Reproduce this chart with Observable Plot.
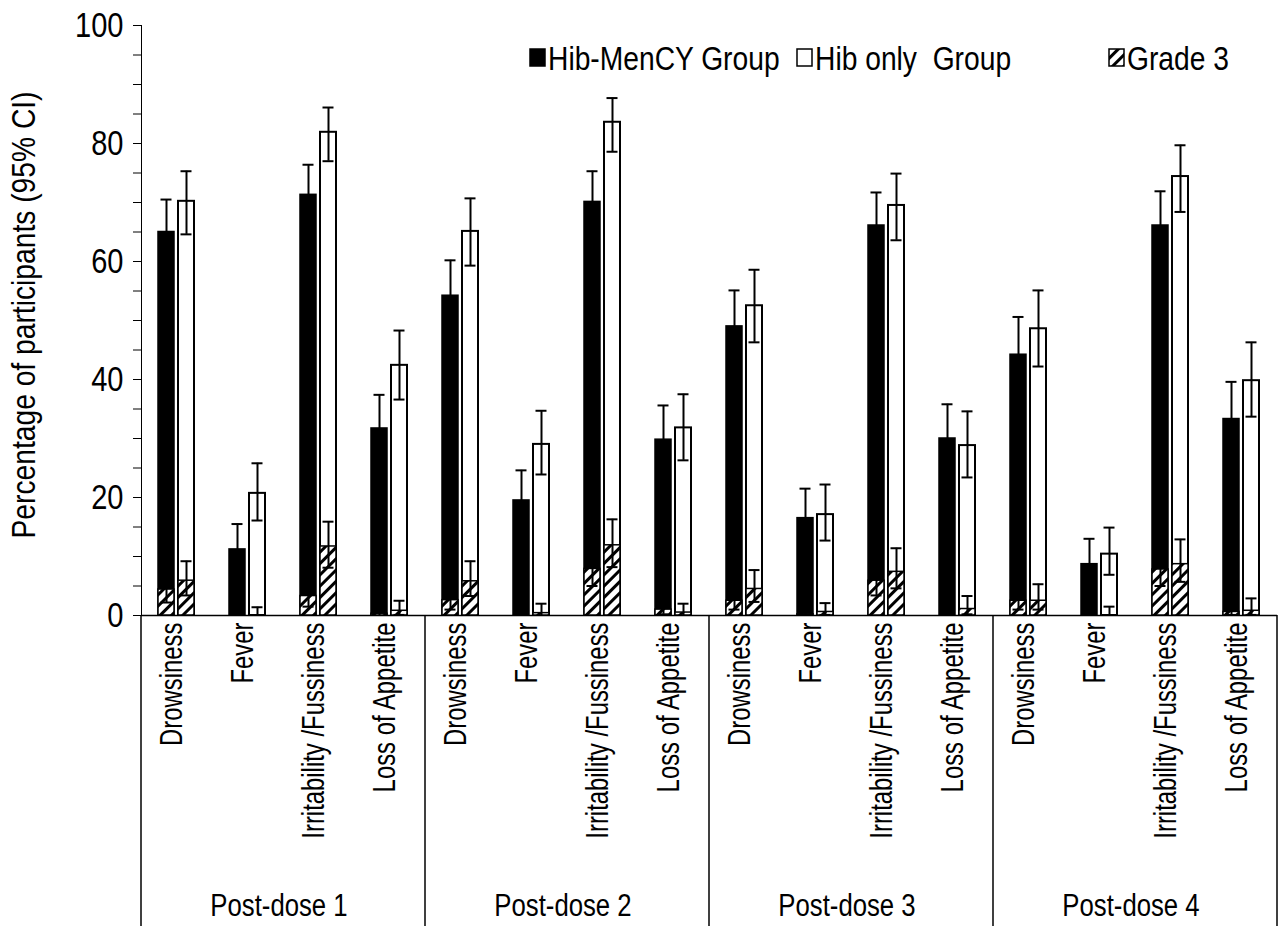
<!DOCTYPE html>
<html><head><meta charset="utf-8">
<script src="https://cdn.jsdelivr.net/npm/d3@7"></script>
<script src="https://cdn.jsdelivr.net/npm/@observablehq/plot@0.6"></script>
<style>
body{margin:0;background:#fff}
#chart{position:relative;width:1283px;height:930px}
</style>
</head><body><div id="chart"></div>
<script>
// ---------- data ----------
const doses = ["Post-dose 1", "Post-dose 2", "Post-dose 3", "Post-dose 4"];
const symptoms = ["Drowsiness", "Fever", "Irritability /Fussiness", "Loss of Appetite"];
const seriesNames = ["Hib-MenCY Group", "Hib only  Group"];
const legendLabels = ["Hib-MenCY Group", "Hib only  Group", "Grade 3"];
const yLabel = "Percentage of participants (95% CI)";
const yTicks = [0, 20, 40, 60, 80, 100];

// any grade, Hib-MenCY (order: dose1 D,F,I,L, dose2 ...)
const menCY   = [65.0, 11.2, 71.3, 31.7, 54.2, 19.5, 70.1, 29.8, 49.0, 16.5, 66.1, 30.0, 44.2,  8.7, 66.1, 33.3];
const menCYLo = [59.2,  7.6, 65.7, 26.4, 48.0, 15.0, 64.4, 24.6, 42.8, 12.2, 60.0, 24.8, 38.0,  5.6, 59.8, 27.5];
const menCYHi = [70.5, 15.5, 76.4, 37.4, 60.2, 24.6, 75.3, 35.6, 55.1, 21.5, 71.7, 35.8, 50.6, 13.0, 71.9, 39.6];
// any grade, Hib only
const hib     = [70.2, 20.7, 81.9, 42.4, 65.1, 29.0, 83.6, 31.8, 52.5, 17.1, 69.5, 28.8, 48.6, 10.4, 74.4, 39.8];
const hibLo   = [64.6, 16.1, 77.0, 36.6, 59.3, 23.9, 78.6, 26.3, 46.3, 12.7, 63.6, 23.4, 42.2,  6.9, 68.4, 33.7];
const hibHi   = [75.3, 25.8, 86.1, 48.3, 70.7, 34.7, 87.7, 37.5, 58.6, 22.2, 74.9, 34.6, 55.1, 14.9, 79.7, 46.3];
// grade 3, Hib-MenCY
const menCY3   = [4.4, 0.0, 3.3, 0.3, 2.6, 0.0, 7.9, 1.0, 2.5, 0.2, 5.9, 0.0, 2.5, 0.0, 7.8, 0.6];
const menCY3Lo = [2.2, 0.0, 1.5, 0.0, 1.0, 0.0, 5.0, 0.2, 1.0, 0.0, 3.4, 0.0, 1.0, 0.0, 5.0, 0.1];
const menCY3Hi = [7.6, 1.5, 6.2, 1.8, 5.3, 1.6, 11.8, 3.1, 5.2, 1.8, 9.2, 1.6, 5.2, 1.6, 11.5, 2.4];
// grade 3, Hib only
const hib3   = [5.9, 0.0, 11.7, 0.8, 5.8, 0.4, 11.9, 0.5, 4.5, 0.6, 7.4, 1.1, 2.5, 0.0, 8.7, 0.8];
const hib3Lo = [3.4, 0.0,  8.1, 0.1, 3.3, 0.0,  8.2, 0.0, 2.3, 0.1, 4.6, 0.2, 1.0, 0.0, 5.7, 0.1];
const hib3Hi = [9.2, 1.4, 15.9, 2.5, 9.2, 2.0, 16.3, 2.0, 7.7, 2.1, 11.4, 3.3, 5.3, 1.5, 12.9, 2.9];

// ---------- table ----------
const rows = [];
const keys = [];
doses.forEach((dose, i) => symptoms.forEach((sym, j) => {
  const k = i * 4 + j;
  const key = dose + "|" + sym;
  keys.push(key);
  rows.push({key, dose, symptom: sym, series: seriesNames[0], value: menCY[k], lo: menCYLo[k], hi: menCYHi[k], g3: menCY3[k], g3lo: menCY3Lo[k], g3hi: menCY3Hi[k]});
  rows.push({key, dose, symptom: sym, series: seriesNames[1], value: hib[k], lo: hibLo[k], hi: hibHi[k], g3: hib3[k], g3lo: hib3Lo[k], g3hi: hib3Hi[k]});
}));

const FONT = "'Liberation Sans', Arial, Helvetica, sans-serif";
const NARROW = 0.83;      // the reference uses a condensed sans face
const NARROW_CAT = 0.77;  // category labels are a little more condensed
const W = 1283, H = 930, ML = 137, MR = 2, MT = 25, MB = 315;

const isA = d => d.series === seriesNames[0];
const isB = d => d.series === seriesNames[1];

const plot = Plot.plot({
  width: W, height: H,
  marginLeft: ML, marginRight: MR, marginTop: MT, marginBottom: MB,
  style: {fontFamily: FONT, fontSize: "35px", color: "black", background: "white", overflow: "visible"},
  facet: {data: rows, x: "key"},
  fx: {domain: keys, padding: 0, axis: null, label: null},
  x: {domain: seriesNames, paddingInner: 0.19, paddingOuter: 0.83, axis: null, label: null},
  y: {domain: [0, 100], ticks: d3.range(0, 101, 5), tickFormat: d => yTicks.includes(d) ? String(d) : "",
      tickSize: 8, tickPadding: 10, line: true, label: null},
  marks: [
    Plot.ruleY([0], {stroke: "black", strokeWidth: 1.5}),
    Plot.barY(rows, {filter: isA, x: "series", y: "value", fill: "black", stroke: "black", strokeWidth: 1.5}),
    Plot.barY(rows, {filter: isB, x: "series", y: "value", fill: "white", stroke: "black", strokeWidth: 2}),
    Plot.barY(rows, {filter: d => d.g3 > 0, x: "series", y: "g3", fill: "url(#hatch)", stroke: "black", strokeWidth: 1.5}),
    // error bars (any grade)
    Plot.ruleX(rows, {x: "series", y1: "lo", y2: "hi", stroke: "black", strokeWidth: 2}),
    Plot.tickY(rows, {x: "series", y: "hi", stroke: "black", strokeWidth: 2, insetLeft: 2.5, insetRight: 2.5}),
    Plot.tickY(rows, {filter: isB, x: "series", y: "lo", stroke: "black", strokeWidth: 2, insetLeft: 2.5, insetRight: 2.5}),
    // error bars (grade 3)
    Plot.ruleX(rows, {x: "series", y1: "g3lo", y2: "g3hi", stroke: "black", strokeWidth: 2}),
    Plot.tickY(rows, {x: "series", y: "g3hi", stroke: "black", strokeWidth: 2, insetLeft: 2.5, insetRight: 2.5}),
    Plot.tickY(rows, {filter: d => d.g3lo > 0, x: "series", y: "g3lo", stroke: "black", strokeWidth: 2, insetLeft: 2.5, insetRight: 2.5}),
    // category labels
    Plot.text(rows, {filter: isA, text: "symptom", frameAnchor: "bottom", rotate: -90, textAnchor: "end",
      dy: 7, dx: 5, fontSize: 31, fill: "black", className: "cat-label"})
  ]
});

document.getElementById("chart").appendChild(plot);

// ---------- extras using the fx scale ----------
const svg = d3.select(plot);
const defs = svg.insert("defs", ":first-child");
const pat = defs.append("pattern").attr("id", "hatch").attr("patternUnits", "userSpaceOnUse")
  .attr("width", 8).attr("height", 8).attr("patternTransform", "rotate(45)");
pat.append("rect").attr("width", 8).attr("height", 8).attr("fill", "white");
pat.append("line").attr("x1", 1.5).attr("y1", 0).attr("x2", 1.5).attr("y2", 8).attr("stroke", "black").attr("stroke-width", 3);

const fxs = plot.scale("fx");
const step = (W - ML - MR) / keys.length;
const fxApply = (fxs && typeof fxs.apply === "function") ? (k => fxs.apply(k)) : (k => ML + keys.indexOf(k) * step);
const bw = (fxs && fxs.bandwidth) ? fxs.bandwidth : step;
const yBase = H - MB;

// separators
const sepXs = doses.map(d => fxApply(d + "|" + symptoms[0]));
sepXs.push(fxApply(keys[keys.length - 1]) + bw);
svg.append("g").selectAll("line").data(sepXs).join("line")
  .attr("x1", d => d).attr("x2", d => d).attr("y1", yBase).attr("y2", 926)
  .attr("stroke", "black").attr("stroke-width", 1.5);

// group labels
svg.append("g").selectAll("text").data(doses).join("text")
  .attr("x", d => fxApply(d + "|" + symptoms[2]) - 4)
  .attr("y", 905).attr("dy", "0.35em")
  .attr("text-anchor", "middle").attr("font-size", 31).attr("font-family", FONT).attr("fill", "black")
  .text(d => d);

// y label
svg.append("text").attr("transform", `translate(23,${(MT + yBase) / 2 - 5}) rotate(-90)`)
  .attr("text-anchor", "middle").attr("dy", "0.35em").attr("font-size", 34).attr("font-family", FONT)
  .attr("fill", "black").text(yLabel);

// legend
const lg = svg.append("g").attr("font-family", FONT).attr("font-size", 34).attr("text-anchor", "start");
const legendItems = [
  {x: 530, fill: "black", label: legendLabels[0]},
  {x: 797, fill: "white", label: legendLabels[1]},
  {x: 1109, fill: "url(#hatch)", label: legendLabels[2]}
];
legendItems.forEach(it => {
  lg.append("rect").attr("x", it.x).attr("y", 49).attr("width", 15).attr("height", 17)
    .attr("fill", it.fill).attr("stroke", "black").attr("stroke-width", 1.5);
  lg.append("text").attr("x", it.x + 18).attr("y", 58).attr("dy", "0.35em").attr("fill", "black")
    .attr("text-anchor", "start").style("white-space", "pre").text(it.label);
});

// condense every text run to mimic the narrow face of the reference
const catGroup = plot.querySelectorAll(".cat-label text");
const catSet = new Set(catGroup);
svg.selectAll("text").each(function() {
  const len = this.getComputedTextLength();
  if (len > 0) {
    const f = catSet.has(this) ? NARROW_CAT : NARROW;
    this.setAttribute("textLength", (len * f).toFixed(1));
    this.setAttribute("lengthAdjust", "spacingAndGlyphs");
  }
});
</script>
</body></html>
